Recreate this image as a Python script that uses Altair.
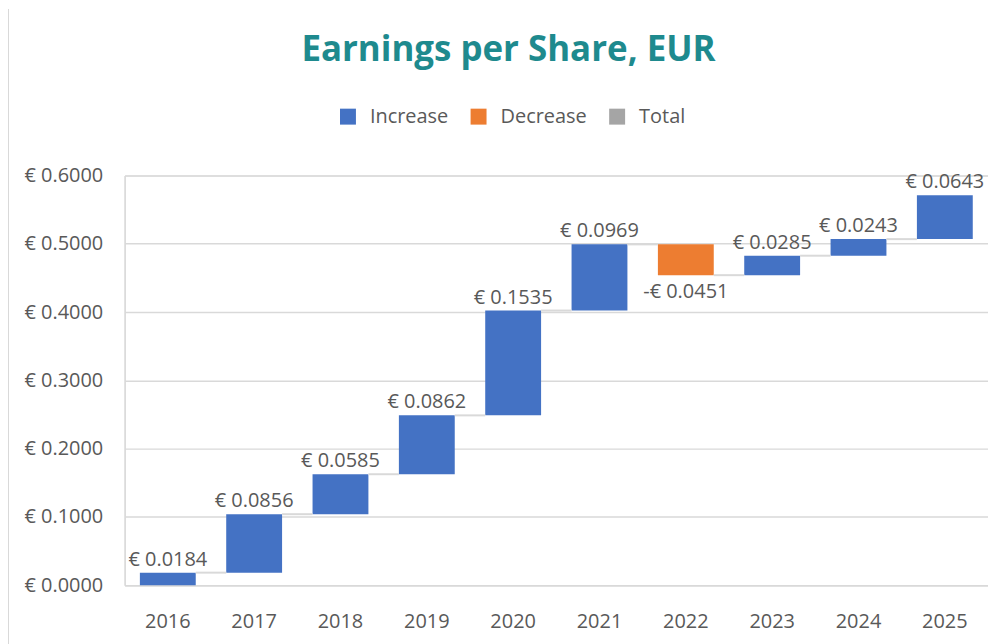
import altair as alt
import pandas as pd

years = ["2016", "2017", "2018", "2019", "2020", "2021", "2022", "2023", "2024", "2025"]
changes = [0.0184, 0.0856, 0.0585, 0.0862, 0.1535, 0.0969, -0.0451, 0.0285, 0.0243, 0.0643]
categories = ["Increase", "Decrease", "Total"]
cat_colors = ["#4472C4", "#ED7D31", "#A5A5A5"]
y_ticks = [0.0, 0.1, 0.2, 0.3, 0.4, 0.5, 0.6]

rows = []
level = 0.0
for i, (yr, ch) in enumerate(zip(years, changes)):
    start = level
    end = level + ch
    level = end
    rows.append({
        "year": yr,
        "start": start,
        "end": end,
        "kind": "Increase" if ch >= 0 else "Decrease",
        "label": (f"€ {ch:.4f}" if ch >= 0 else f"-€ {abs(ch):.4f}"),
        "next": years[i + 1] if i + 1 < len(years) else None,
    })
df = pd.DataFrame(rows)
conn = df[df["next"].notna()]

FONT = "Open Sans"
TXT = "#595959"
GRID = "#D9D9D9"

xenc = alt.X("year:N", sort=years,
             scale=alt.Scale(paddingInner=0.353, paddingOuter=0.1765),
             axis=alt.Axis(title=None, labelAngle=0, ticks=False, tickSize=0,
                           bandPosition=0.5, labelBaseline="top",
                           labelPadding=26, labelFontSize=20, labelColor=TXT,
                           labelFont=FONT, domainColor=GRID, domainWidth=1.5))
yscale = alt.Scale(domain=[0, 0.6], nice=False, zero=True)

bars = alt.Chart(df).mark_bar().encode(
    x=xenc,
    y=alt.Y("start:Q", scale=yscale,
            axis=alt.Axis(title=None, values=y_ticks, ticks=False, tickSize=0,
                          labelPadding=22, labelFontSize=20, labelColor=TXT,
                          labelFont=FONT, labelExpr="'€ ' + format(datum.value, '.4f')",
                          grid=True, gridColor=GRID, gridWidth=1.5,
                          domainColor=GRID, domainWidth=1.5)),
    y2="end:Q",
    color=alt.Color("kind:N",
                    scale=alt.Scale(domain=categories, range=cat_colors),
                    legend=alt.Legend(title=None, orient="none", direction="horizontal",
                                      legendX=214, legendY=-69,
                                      symbolType="square", symbolSize=256,
                                      symbolStrokeWidth=0, symbolOpacity=1,
                                      labelFontSize=20, labelColor=TXT, labelFont=FONT,
                                      labelOffset=12, columnPadding=20)),
)

connectors = alt.Chart(conn).mark_rule(color=GRID, strokeWidth=2).encode(
    x=alt.X("year:N", sort=years, bandPosition=1),
    x2=alt.X2("next:N", bandPosition=0),
    y=alt.Y("end:Q", scale=yscale),
)

lab_up = alt.Chart(df).transform_filter("datum.kind == 'Increase'").mark_text(
    baseline="alphabetic", dy=-7, fontSize=20, font=FONT, color=TXT
).encode(x=alt.X("year:N", sort=years),
         y=alt.Y("end:Q", scale=yscale), text="label:N")

lab_down = alt.Chart(df).transform_filter("datum.kind == 'Decrease'").mark_text(
    baseline="alphabetic", dy=23, fontSize=20, font=FONT, color=TXT
).encode(x=alt.X("year:N", sort=years),
         y=alt.Y("end:Q", scale=yscale), text="label:N")

frame = alt.Chart(df).mark_rule(color=GRID, strokeWidth=2).encode(
    x=alt.value(-117), y=alt.value(-167), y2=alt.value(476)
)

chart = alt.layer(bars, connectors, lab_up, lab_down, frame).properties(
    width=866, height=411,
    title=alt.TitleParams("Earnings per Share, EUR", fontSize=35, font=FONT,
                          fontWeight="bold", color="#1E8A8E", anchor="middle",
                          baseline="alphabetic", dx=-48, offset=-88),
    autosize=alt.AutoSizeParams(type="none"),
    padding={"left": 117, "top": 167, "right": 0, "bottom": 58},
).configure_view(strokeWidth=0).configure(background="white")

chart.save("out.html", embed_options={"renderer": "svg", "actions": False})
